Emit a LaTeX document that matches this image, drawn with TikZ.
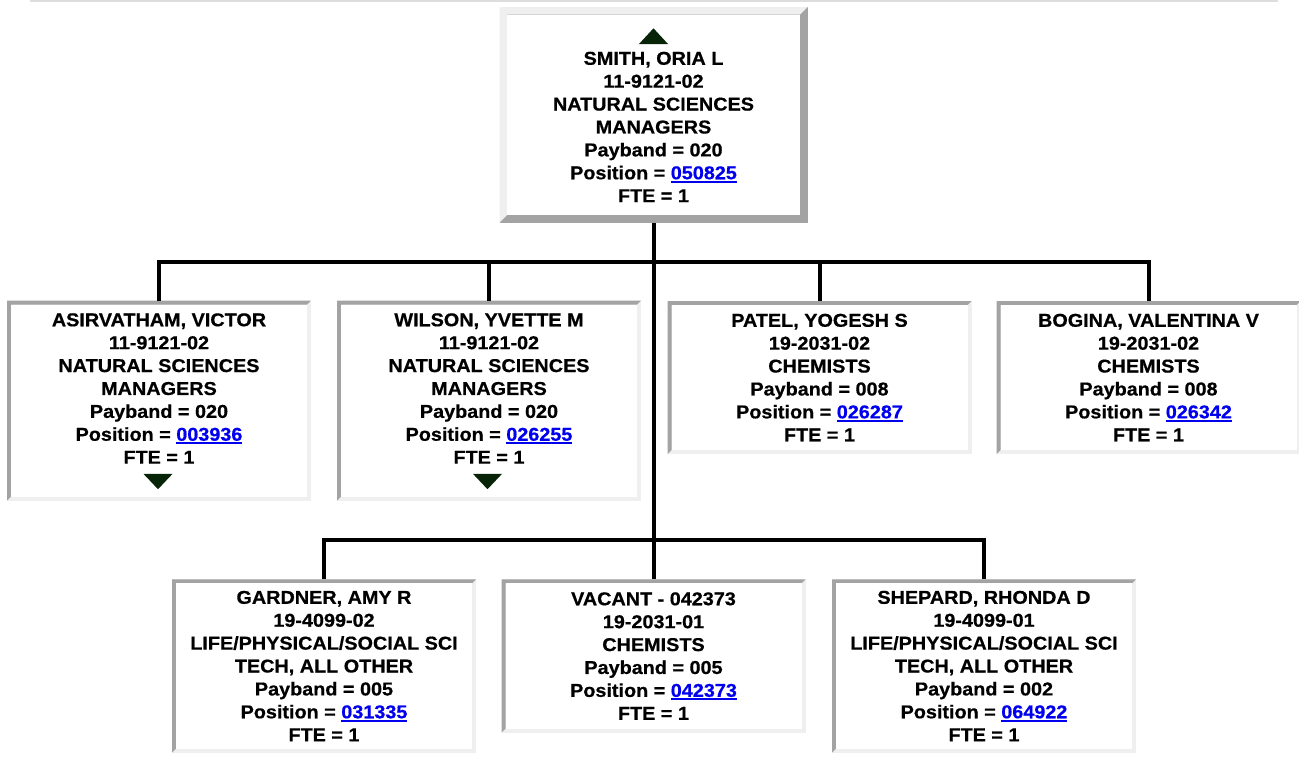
\documentclass[tikz,border=0pt]{standalone}
\usepackage{fontspec}
\newfontfamily\boxfont{Liberation Sans Bold}[FakeStretch=1.065,FakeBold=0.6]
\usetikzlibrary{calc,backgrounds}
\definecolor{bevdark}{RGB}{163,163,163}
\definecolor{bevlight}{RGB}{239,239,239}
\definecolor{linkblue}{RGB}{0,0,238}
\definecolor{tricol}{RGB}{8,36,8}
\definecolor{rulegray}{RGB}{221,221,221}
\newcommand\lnk[1]{{\color{linkblue}\setbox0\hbox{#1}\rlap{\rule[-3.3pt]{\wd0}{2pt}}\box0}}
% #1 node name, #2 border width, #3 top/left colour, #4 bottom/right colour
\newcommand\bevelbox[4]{%
  \fill[#4] (#1.north west) rectangle (#1.south east);
  \fill[#3] (#1.south west) -- (#1.north west) -- (#1.north east)
     -- ($(#1.north east)+(-#2,#2)$) -- ($(#1.north west)+(#2,#2)$)
     -- ($(#1.south west)+(#2,-#2)$) -- cycle;
  \fill[white] ($(#1.north west)+(#2,#2)$) rectangle ($(#1.south east)+(-#2,-#2)$);
}
\tikzset{
  person/.style={inner sep=0pt, outer sep=0pt, align=center,
    font=\boxfont\fontsize{18.6}{22.9}\selectfont, minimum width=304pt},
  conn/.style={line width=4pt, draw=black, line join=miter},
  tri/.style={fill=tricol},
  topline/.style={draw=rulegray, line width=1.5pt},
}
\begin{document}
\begin{tikzpicture}[x=1pt,y=-1pt]
\useasboundingbox (0,0) rectangle (1299,761);

% people
\node[person, minimum width=308pt, minimum height=215.5pt] (top) at (653.5,114.75)
  {\rule{0pt}{14.5pt}\\SMITH, ORIA L\\11-9121-02\\NATURAL SCIENCES\\MANAGERS\\Payband = 020\\Position = \lnk{050825}\\FTE = 1};

\node[person, minimum height=200pt] (asir) at (159,400.6)
  {ASIRVATHAM, VICTOR\\11-9121-02\\NATURAL SCIENCES\\MANAGERS\\Payband = 020\\Position = \lnk{003936}\\FTE = 1\\\rule[-1.4pt]{0pt}{1.4pt}};
\node[person, minimum height=200pt] (wilson) at (489,400.6)
  {WILSON, YVETTE M\\11-9121-02\\NATURAL SCIENCES\\MANAGERS\\Payband = 020\\Position = \lnk{026255}\\FTE = 1\\\rule[-1.4pt]{0pt}{1.4pt}};
\node[person, minimum height=153pt] (patel) at (819.5,377.5)
  {PATEL, YOGESH S\\19-2031-02\\CHEMISTS\\Payband = 008\\Position = \lnk{026287}\\FTE = 1};
\node[person, minimum height=153pt] (bogina) at (1148.5,377.5)
  {BOGINA, VALENTINA V\\19-2031-02\\CHEMISTS\\Payband = 008\\Position = \lnk{026342}\\FTE = 1};

\node[person, minimum height=173.4pt] (gardner) at (324,666)
  {GARDNER, AMY R\\19-4099-02\\LIFE/PHYSICAL/SOCIAL SCI\\TECH, ALL OTHER\\Payband = 005\\Position = \lnk{031335}\\FTE = 1};
\node[person, minimum height=153.4pt] (vacant) at (653.5,656)
  {VACANT - 042373\\19-2031-01\\CHEMISTS\\Payband = 005\\Position = \lnk{042373}\\FTE = 1};
\node[person, minimum height=173.4pt] (shepard) at (984,666)
  {SHEPARD, RHONDA D\\19-4099-01\\LIFE/PHYSICAL/SOCIAL SCI\\TECH, ALL OTHER\\Payband = 002\\Position = \lnk{064922}\\FTE = 1};

% box frames
\begin{scope}[on background layer]
  \fill[white] (0,0) rectangle (1299,761);
  \bevelbox{top}{7.5}{bevlight}{bevdark}
  \bevelbox{asir}{4}{bevdark}{bevlight}
  \bevelbox{wilson}{4}{bevdark}{bevlight}
  \bevelbox{patel}{4}{bevdark}{bevlight}
  \bevelbox{bogina}{4}{bevdark}{bevlight}
  \bevelbox{gardner}{4}{bevdark}{bevlight}
  \bevelbox{vacant}{4}{bevdark}{bevlight}
  \bevelbox{shepard}{4}{bevdark}{bevlight}
\end{scope}

% thin rule at the top
\draw[topline] (30,0.75) -- (1278,0.75);

% expand / collapse triangles
\fill[tri] ($(top.north)+(-14.5,37)$) -- ++(29,0) -- ++(-14.5,-15.7) -- cycle;
\fill[tri] ($(asir.south)+(-15.5,-26.7)$) -- ++(29,0) -- ++(-14.5,15.3) -- cycle;
\fill[tri] ($(wilson.south)+(-16,-26.7)$) -- ++(29,0) -- ++(-14.5,15.3) -- cycle;

% connectors
\coordinate (bus1) at (653.5,262);
\coordinate (bus2) at (653.5,540);
\draw[conn] (top.south) -- (bus2);
\draw[conn] (asir.north) -- (asir.north |- bus1) -- (bogina.north |- bus1) -- (bogina.north);
\draw[conn] (wilson.north) -- (wilson.north |- bus1);
\draw[conn] (patel.north) -- (patel.north |- bus1);
\draw[conn] (gardner.north) -- (gardner.north |- bus2) -- (shepard.north |- bus2) -- (shepard.north);
\draw[conn] (vacant.north) -- (bus2);
\end{tikzpicture}
\end{document}
